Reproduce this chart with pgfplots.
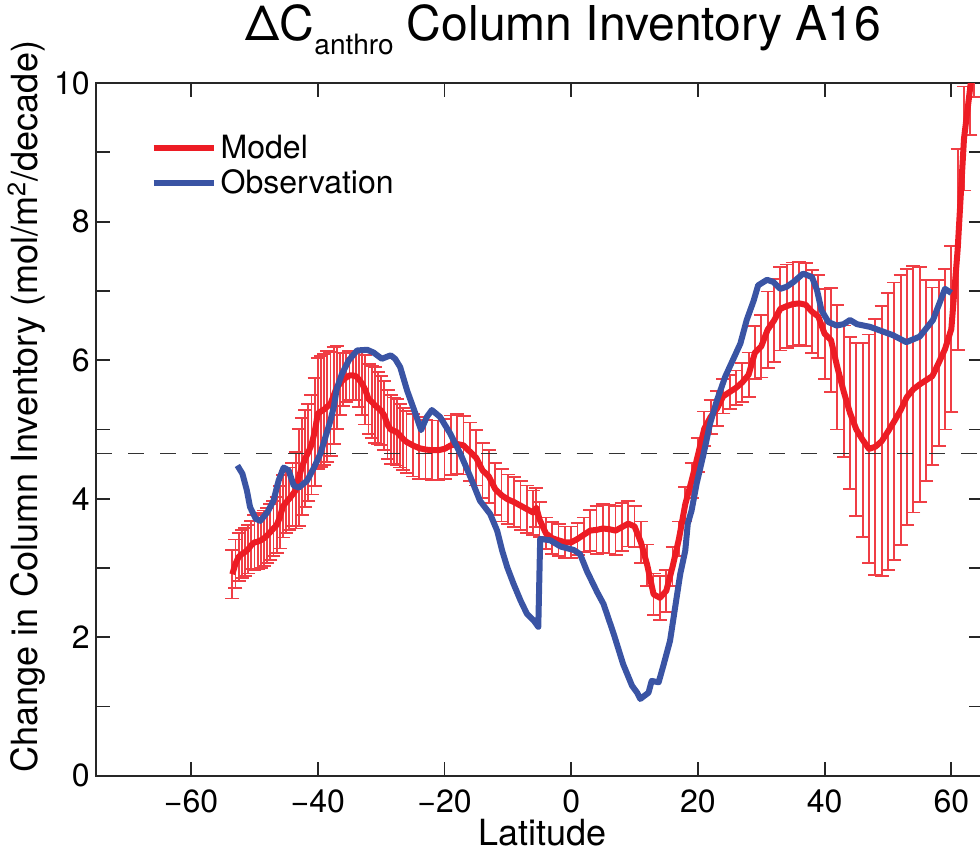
\documentclass[border=0pt]{standalone}
\usepackage{pgfplots}
\pgfplotsset{compat=1.18}
\usepackage{pgfplotstable}
\usepackage{fontspec}
\setmainfont{TeX Gyre Heros}
\definecolor{mred}{RGB}{237,28,36}
\definecolor{mblue}{RGB}{58,84,164}

\pgfplotstableread{
x y e
-53.5 2.91 0.35
-53.0 3.06 0.35
-52.5 3.16 0.35
-52.0 3.20 0.35
-51.5 3.23 0.35
-51.0 3.27 0.35
-50.5 3.33 0.35
-50.0 3.37 0.40
-49.5 3.38 0.40
-49.0 3.40 0.40
-48.5 3.43 0.40
-48.0 3.47 0.40
-47.5 3.52 0.40
-47.0 3.57 0.40
-46.5 3.62 0.40
-46.0 3.73 0.45
-45.5 3.89 0.45
-45.0 3.95 0.45
-44.5 4.00 0.45
-44.0 4.06 0.45
-43.5 4.12 0.55
-43.0 4.31 0.70
-42.5 4.46 0.70
-42.0 4.58 0.70
-41.5 4.67 0.70
-41.0 4.78 0.72
-40.5 4.96 0.78
-40.0 5.23 0.80
-39.5 5.26 0.80
-39.0 5.29 0.80
-38.5 5.33 0.80
-38.0 5.37 0.75
-37.5 5.49 0.70
-37.0 5.61 0.60
-36.5 5.66 0.45
-36.0 5.72 0.38
-35.5 5.75 0.35
-35.0 5.78 0.35
-34.5 5.78 0.35
-34.0 5.77 0.35
-33.5 5.72 0.40
-33.0 5.66 0.45
-32.5 5.57 0.50
-32.0 5.44 0.50
-31.5 5.40 0.52
-31.0 5.35 0.55
-30.5 5.31 0.52
-30.0 5.27 0.50
-29.5 5.20 0.50
-29.0 5.07 0.50
-28.5 5.00 0.50
-28.0 4.98 0.48
-27.5 4.96 0.48
-27.0 4.91 0.46
-26.5 4.86 0.45
-26.0 4.82 0.45
-25 4.77 0.45
-24 4.73 0.45
-23 4.71 0.43
-22 4.70 0.43
-21 4.70 0.43
-20 4.72 0.43
-19 4.77 0.43
-18 4.79 0.43
-17 4.77 0.42
-16 4.68 0.42
-15 4.59 0.40
-14 4.41 0.40
-13 4.32 0.38
-12 4.14 0.38
-11 4.05 0.38
-10 3.99 0.36
-9 3.95 0.36
-8 3.90 0.35
-7 3.85 0.34
-6 3.80 0.32
-5.5 3.87 0.28
-5 3.70 0.25
-4 3.50 0.23
-3 3.43 0.23
-2 3.40 0.23
-1 3.37 0.23
0 3.37 0.23
1 3.42 0.23
2 3.48 0.25
3 3.54 0.30
4 3.55 0.35
5 3.57 0.35
6 3.56 0.35
7 3.54 0.35
8 3.59 0.35
9 3.64 0.33
10 3.60 0.30
11 3.37 0.30
12 3.04 0.30
13 2.62 0.30
14 2.57 0.32
15 2.67 0.30
16 3.02 0.28
17 3.42 0.25
18 3.92 0.25
19 4.26 0.25
20 4.63 0.25
21 5.01 0.25
22 5.18 0.25
23 5.30 0.25
24 5.48 0.25
25 5.54 0.25
26 5.60 0.25
27 5.68 0.28
28 5.79 0.32
29 6.11 0.38
30 6.20 0.45
31 6.44 0.55
32 6.57 0.60
33 6.74 0.60
34 6.78 0.60
35 6.81 0.60
36 6.82 0.60
37 6.80 0.60
38 6.70 0.60
39 6.63 0.60
40 6.38 0.65
41 6.29 0.75
42 5.90 0.90
43 5.55 0.95
44 5.24 1.10
45 5.00 1.25
46 4.85 1.40
47 4.72 1.65
48 4.75 1.85
49 4.83 1.95
50 4.97 2.00
51 5.12 2.00
52 5.28 1.95
53 5.47 1.85
54 5.58 1.78
55 5.65 1.70
56 5.71 1.45
57 5.77 1.28
58 5.96 1.20
59 6.16 1.16
60 6.45 1.20
61 7.60 1.45
62 9.20 0.75
63 9.95 0.70
63.6 10.5 0.70
}\model

\pgfplotstableread{
x y
-52.7 4.48
-51.9 4.36
-51.2 4.12
-50.7 3.88
-49.8 3.71
-49.1 3.68
-48.0 3.80
-47.0 3.97
-46.2 4.26
-45.4 4.45
-44.6 4.41
-43.8 4.19
-43.0 4.16
-41.7 4.26
-40.6 4.45
-39.6 4.65
-38.8 4.89
-38.0 5.13
-37.5 5.32
-37.0 5.59
-36.2 5.80
-35.1 6.00
-33.8 6.14
-32.2 6.15
-31.2 6.11
-29.9 6.02
-28.5 6.07
-27.8 6.02
-27.0 5.90
-25.9 5.56
-24.6 5.23
-23.7 4.99
-22.8 5.18
-22.0 5.28
-20.7 5.18
-19.1 4.94
-17.5 4.65
-15.9 4.31
-14.4 3.97
-12.8 3.78
-11.7 3.54
-10.9 3.25
-10.1 3.01
-9.1 2.77
-8.0 2.53
-7.0 2.34
-5.9 2.24
-5.2 2.15
-4.9 3.42
-3.3 3.40
-1.7 3.31
0.4 3.26
1.4 3.20
2.5 2.95
4.1 2.65
5.1 2.48
6.7 2.05
8.2 1.61
9.6 1.30
10.4 1.20
10.9 1.11
12.2 1.20
12.7 1.37
13.8 1.35
14.6 1.61
15.6 1.95
16.4 2.43
17.2 2.91
18.0 3.25
18.4 3.64
19.0 3.83
19.8 4.22
20.9 4.65
21.9 5.08
23.0 5.42
24.3 5.76
25.6 6.02
26.7 6.24
27.7 6.58
28.8 6.86
29.5 7.08
30.9 7.16
31.9 7.13
33.0 7.03
34.0 7.06
35.1 7.13
36.6 7.25
38.0 7.20
38.8 7.01
39.5 6.72
40.6 6.55
41.9 6.50
43.0 6.52
44.0 6.58
45.1 6.52
47.2 6.48
48.7 6.43
50.8 6.36
52.9 6.26
55.0 6.34
57.1 6.58
58.2 6.84
59.0 7.03
60.0 6.97
}\obs

\begin{document}
\begin{tikzpicture}
\begin{axis}[
  scale only axis, width=443pt, height=346pt,
  xmin=-75, xmax=65, ymin=0, ymax=10,
  xtick={-60,-40,-20,0,20,40,60},
  xticklabels={−60,−40,−20,0,20,40,60},
  ytick={0,2,4,6,8,10},
  minor ytick={1,3,5,7,9},
  major tick length=7pt, minor tick length=7pt,
  tick align=inside,
  axis line style={line width=1pt, black!85},
  tick style={line width=0.9pt, black!85},
  tick label style={font=\fontsize{16}{19}\selectfont},
  /pgf/number format/assume math mode=true,
  yticklabel style={inner sep=0pt, xshift=-3pt},
  xticklabel style={inner sep=0pt, yshift=-7pt},
  title={ΔC\raisebox{-7pt}{\fontsize{14}{14}\selectfont anthro} Column Inventory A16},
  title style={at={(axis description cs:0.527,1.0448)}, anchor=base, font=\fontsize{24}{28}\selectfont},
  xlabel={Latitude},
  xlabel style={at={(axis description cs:0.503,-0.101)}, anchor=base, font=\fontsize{18}{22}\selectfont},
  ylabel={Change in Column Inventory (mol/m\textsuperscript{2}/decade)},
  ylabel style={at={(axis description cs:-0.0655,0.533)}, anchor=base, font=\fontsize{18}{22}\selectfont},
  legend style={at={(axis description cs:0.061,0.931)}, anchor=north west, draw=none, fill=none, inner sep=0pt,
    font=\fontsize{16}{19}\selectfont},
  legend cell align=left,
  legend image code/.code={\draw[#1] (0pt,0pt) -- (30pt,0pt);},
]
\addplot[forget plot, draw=mred, color=mred, line width=0.6pt, mark=none,
  error bars/.cd, y dir=both, y explicit,
  error bar style={line width=0.9pt, draw=mred!85, solid},
  error mark options={rotate=90, mark size=3.5pt, line width=0.9pt, draw=mred!85}]
  table[x=x, y=y, y error=e] {\model};
\addplot[forget plot, black!80, line width=0.7pt, dash pattern=on 8pt off 8pt]
  coordinates {(-75,4.65) (65,4.65)};
\addplot[mred, line width=3pt, line join=round, mark=none] table[x=x, y=y] {\model};
\addlegendentry{Model}
\addplot[mblue, line width=3pt, line join=round, mark=none] table[x=x, y=y] {\obs};
\addlegendentry{Observation}
\end{axis}
\pgfresetboundingbox
\path ([xshift=-48pt,yshift=-38pt]current axis.south west) rectangle ([xshift=-1.5pt,yshift=41.5pt]current axis.north east);
\end{tikzpicture}
\end{document}
